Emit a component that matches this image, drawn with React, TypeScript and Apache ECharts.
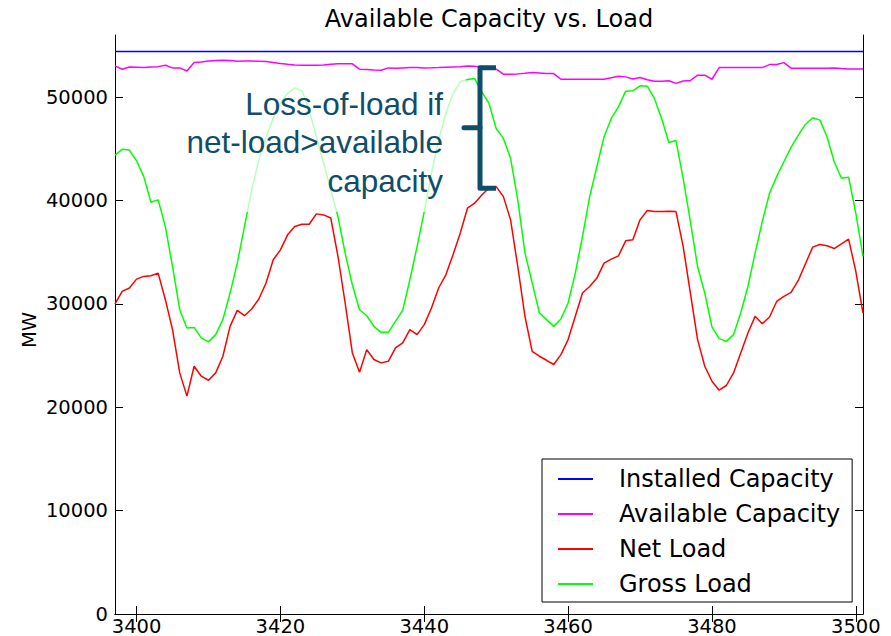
import React, { useEffect, useRef } from "react";
import * as echarts from "echarts";

const START_HOUR = 3397;
const END_HOUR = 3501;
const INSTALLED_CAPACITY = 54400;

const AVAILABLE_CAPACITY = [
  53010, 52690, 52910, 52880, 52850, 52910, 52940, 53080, 52820, 52820,
  52520, 53330, 53400, 53490, 53530, 53560, 53530, 53460, 53490, 53490,
  53460, 53430, 53330, 53240, 53170, 53110, 53080, 53080, 53080, 53110,
  53170, 53210, 53210, 53210, 52690, 52660, 52620, 52590, 52820, 52790,
  52820, 52850, 52850, 52820, 52830, 52850, 52880, 52910, 52940, 53010,
  52980, 52960, 52900, 52700, 52210, 52210, 52240, 52300, 52370, 52330,
  52270, 52270, 51720, 51720, 51720, 51720, 51720, 51720, 51720, 51870,
  52000, 51950, 51750, 51890, 51680, 51520, 51520, 51570, 51320, 51550,
  51600, 52110, 52110, 51720, 52850, 52850, 52850, 52850, 52850, 52850,
  52850, 53140, 53140, 53330, 52790, 52790, 52790, 52790, 52790, 52790,
  52820, 52750, 52720, 52720, 52720,
];

const NET_LOAD = [
  30000, 31200, 31530, 32390, 32650, 32710, 32970, 30400, 27500, 23320,
  21070, 23960, 23000, 22610, 23320, 24930, 27820, 29370, 28850, 29500,
  30470, 32010, 34260, 35220, 36670, 37470, 37700, 37700, 38700, 38600,
  38300, 34600, 30080, 25250, 23390, 25570, 24610, 24290, 24440, 25730,
  26220, 27500, 27020, 27990, 29600, 31530, 32810, 34740, 36830, 39250,
  39730, 40530, 41200, 41330, 40370, 38120, 33610, 28790, 25410, 24930,
  24540, 24130, 25090, 26540, 28790, 31040, 31680, 32490, 33940, 34320,
  34640, 36090, 36190, 38120, 39020, 38920, 38920, 38950, 38920, 35540,
  31040, 26540, 23960, 22510, 21650, 22100, 23320, 25250, 27180, 28790,
  28080, 28730, 30230, 30720, 31100, 32260, 33870, 35480, 35730, 35610,
  35350, 35800, 36260, 33130, 29110,
];

const GROSS_LOAD = [
  44390, 44940, 44870, 43840, 42300, 39820, 40050, 37470, 33610, 29430,
  27660, 27720, 26700, 26320, 27020, 28470, 31040, 33940, 37470, 41010,
  43900, 46160, 47930, 49380, 50340, 50890, 50600, 48730, 46160, 43590,
  41010, 38440, 34900, 31840, 29430, 28850, 27820, 27240, 27240, 28300,
  29370, 32330, 35540, 38920, 42620, 45840, 48410, 50340, 51470, 51700,
  51790, 50500, 49380, 46960, 46000, 44070, 40050, 34930, 32040, 29140,
  28470, 27820, 28530, 30080, 32970, 36510, 40370, 43260, 46160, 47930,
  49050, 50570, 50600, 51080, 51050, 49860, 47930, 45610, 45790, 42100,
  37960, 33610, 31040, 27760, 26630, 26370, 27020, 29110, 31680, 34900,
  37960, 40680, 42300, 43740, 45130, 46320, 47350, 47990, 47770, 46160,
  43740, 42140, 42240, 38760, 34580,
];

const X_TICKS = [3400, 3420, 3440, 3460, 3480, 3500];
const Y_TICKS = [0, 10000, 20000, 30000, 40000, 50000];
const Y_MAX = 56000;

const SERIES_NAMES = ["Installed Capacity", "Available Capacity", "Net Load", "Gross Load"];
const SERIES_COLORS = ["#0000ff", "#ff00ff", "#ff0000", "#00ff00"];

const TITLE = "Available Capacity vs. Load";
const Y_NAME = "MW";
const NOTE_LINES = ["Loss-of-load if", "net-load>available", "capacity"];

const TICK_FONT = "DejaVu Sans";
const NOTE_COLOR = "#0f4e6a";

function toPairs(values: number[]) {
  return values.map((v, i) => [START_HOUR + i, v]);
}

export default function App() {
  const ref = useRef<HTMLDivElement>(null);

  useEffect(() => {
    if (!ref.current) return;
    const chart = echarts.init(ref.current, undefined, { renderer: "svg" });

    const seriesData = [
      [
        [START_HOUR, INSTALLED_CAPACITY],
        [END_HOUR, INSTALLED_CAPACITY],
      ],
      toPairs(AVAILABLE_CAPACITY),
      toPairs(NET_LOAD),
      toPairs(GROSS_LOAD),
    ];

    const axisLine = { show: true, lineStyle: { color: "#000", width: 1 } };
    const tickStyle = { color: "#000", width: 1 };
    const plain = (v: number) => String(v);

    const option: any = {
      animation: false,
      backgroundColor: "#fff",
      grid: {
        left: 115,
        right: 28,
        top: 35,
        bottom: 22,
        containLabel: false,
        outerBoundsMode: "none",
      },
      xAxis: [
        {
          type: "value",
          min: START_HOUR,
          max: END_HOUR,
          position: "bottom",
          axisLine,
          axisTick: { show: true, inside: true, length: 8, lineStyle: tickStyle, customValues: X_TICKS },
          axisLabel: {
            show: true,
            customValues: X_TICKS,
            formatter: plain,
            margin: 3,
            color: "#000",
            fontSize: 19.5,
            lineHeight: 18,
            fontFamily: TICK_FONT,
          },
          splitLine: { show: false },
        },
        {
          type: "value",
          min: START_HOUR,
          max: END_HOUR,
          position: "top",
          axisLine,
          axisTick: { show: true, inside: true, length: 8, lineStyle: tickStyle, customValues: X_TICKS },
          axisLabel: { show: false },
          splitLine: { show: false },
        },
      ],
      yAxis: [
        {
          type: "value",
          min: 0,
          max: Y_MAX,
          position: "left",
          axisLine,
          axisTick: { show: true, inside: true, length: 8, lineStyle: tickStyle, customValues: Y_TICKS },
          axisLabel: {
            show: true,
            customValues: Y_TICKS,
            formatter: plain,
            margin: 7,
            color: "#000",
            fontSize: 19.5,
            fontFamily: TICK_FONT,
          },
          splitLine: { show: false },
        },
        {
          type: "value",
          min: 0,
          max: Y_MAX,
          position: "right",
          axisLine,
          axisTick: { show: true, inside: true, length: 8, lineStyle: tickStyle, customValues: Y_TICKS },
          axisLabel: { show: false },
          splitLine: { show: false },
        },
      ],
      legend: {
        show: true,
        orient: "vertical",
        left: 542,
        top: 459,
        data: SERIES_NAMES,
        icon: "rect",
        backgroundColor: "#fff",
        borderColor: "#000",
        borderWidth: 1,
        borderRadius: 0,
        padding: [7, 12, 5, 16],
        itemWidth: 35,
        itemHeight: 2,
        itemGap: 9,
        textStyle: {
          color: "#000",
          fontSize: 24,
          fontFamily: TICK_FONT,
          lineHeight: 26,
          padding: [0, 0, 0, 21],
        },
      },
      series: SERIES_NAMES.map((name, i) => ({
        name,
        type: "line",
        xAxisIndex: 0,
        yAxisIndex: 0,
        data: seriesData[i],
        showSymbol: false,
        symbol: "none",
        color: SERIES_COLORS[i],
        itemStyle: { color: SERIES_COLORS[i] },
        lineStyle: { color: SERIES_COLORS[i], width: 1.5 },
        z: 2 + i,
      })),
      graphic: [
        {
          type: "rect",
          z: 50,
          silent: true,
          shape: { x: 180, y: 74, width: 286, height: 138 },
          style: { fill: "rgba(255,255,255,0.72)" },
        },
        ...NOTE_LINES.map((t, i) => ({
          type: "text",
          z: 60,
          x: 443,
          y: 104 + i * 38.3,
          style: {
            text: t,
            fill: NOTE_COLOR,
            fontSize: 31.5,
            fontFamily: "Liberation Sans",
            align: "right",
            verticalAlign: "middle",
          },
        })),
        {
          type: "polyline",
          z: 60,
          shape: {
            points: [
              [496, 67.7],
              [480, 67.7],
              [480, 188.3],
              [496, 188.3],
            ],
          },
          style: { stroke: NOTE_COLOR, lineWidth: 5, fill: "none", lineJoin: "round", lineCap: "butt" },
        },
        {
          type: "line",
          z: 60,
          shape: { x1: 464, y1: 127.7, x2: 480, y2: 127.7 },
          style: { stroke: NOTE_COLOR, lineWidth: 5, lineCap: "round" },
        },
        {
          type: "text",
          z: 60,
          x: 489,
          y: 19,
          style: {
            text: TITLE,
            fill: "#000",
            fontSize: 24,
            fontFamily: TICK_FONT,
            align: "center",
            verticalAlign: "middle",
          },
        },
        {
          type: "text",
          z: 60,
          x: 29,
          y: 330,
          rotation: Math.PI / 2,
          style: {
            text: Y_NAME,
            fill: "#000",
            fontSize: 19.5,
            fontFamily: TICK_FONT,
            align: "center",
            verticalAlign: "middle",
          },
        },
      ],
    };

    chart.setOption(option);
    return () => chart.dispose();
  }, []);

  return (
    <div
      ref={ref}
      style={{ position: "fixed", left: 0, top: 0, width: 891, height: 636, background: "#fff" }}
    />
  );
}
